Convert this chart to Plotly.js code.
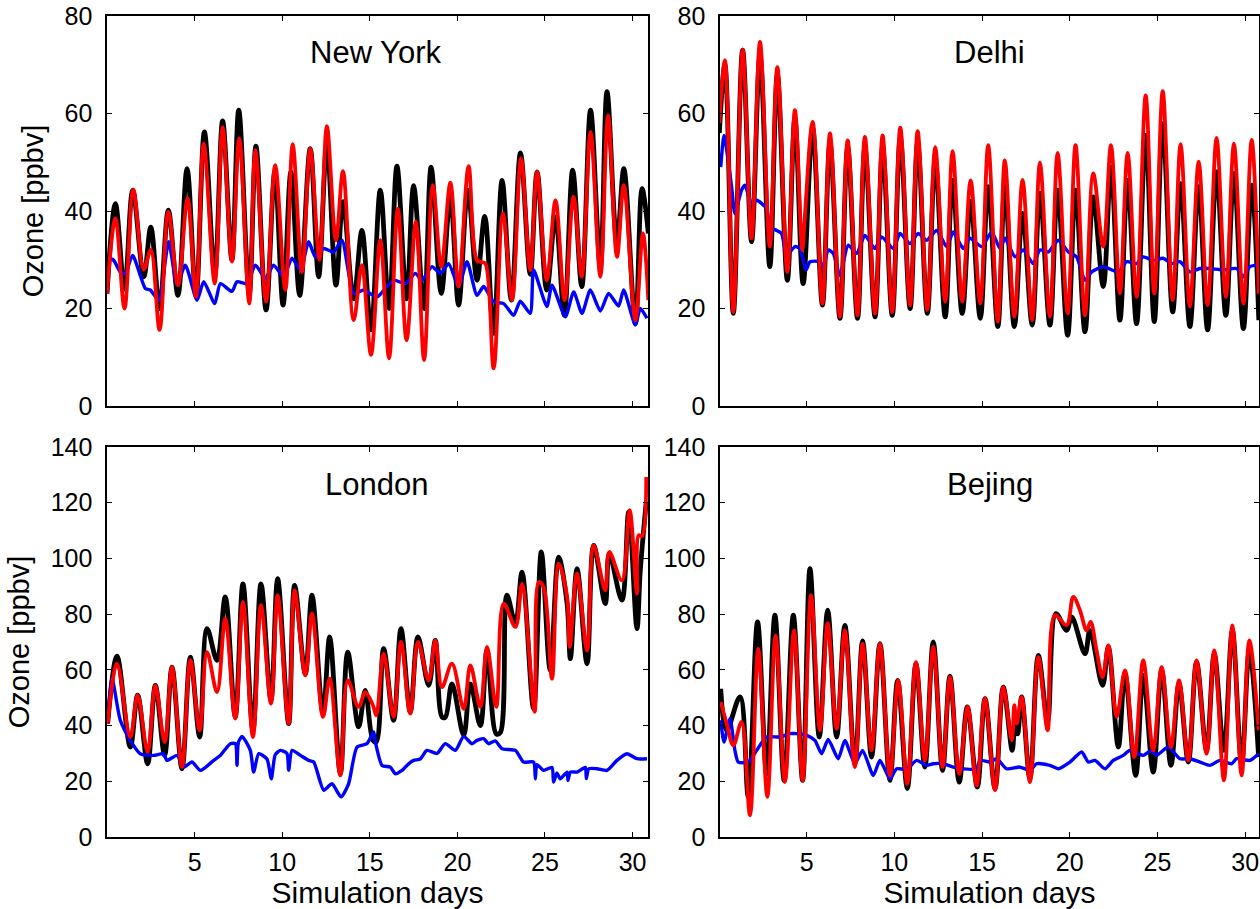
<!DOCTYPE html>
<html>
<head>
<meta charset="utf-8">
<script src="https://cdn.plot.ly/plotly-3.0.1.min.js"></script>
<style>
  html, body { margin: 0; padding: 0; background: #ffffff; }
  #chart { width: 1260px; height: 909px; }
</style>
</head>
<body>
<div id="chart"></div>
<script>
// Ozone time series, [simulation day, ppbv] pairs, one list per city and run.

const newYorkBlack = [[0,23],[0.48,41.5],[1.0,24],[1.47,44.3],[2.1,26.5],[2.5,36.7],[3.0,20],[3.5,40.2],[4.05,22.7],[4.57,48.7],[5.08,22.4],[5.56,56.2],[6.15,27],[6.6,58.5],[7.13,30],[7.52,60.7],[8.12,23],[8.5,53.3],[9.08,19.7],[9.58,48],[10.05,20.7],[10.5,48],[11.0,22.7],[11.6,52.8],[12.08,26.5],[12.55,53.8],[13.07,24.8],[13.47,41.9],[14.08,22],[14.55,36],[15.07,15.6],[15.6,44.3],[16.1,20],[16.55,49.2],[17.1,22],[17.5,45.2],[18.1,20],[18.5,49],[19.08,23.1],[19.6,42.9],[20.07,20.7],[20.6,44.3],[21.12,25.8],[21.56,38.9],[22.07,14.9],[22.55,46.3],[23.08,21.7],[23.6,51.9],[24.16,27],[24.55,48],[25.1,23.8],[25.6,38.8],[26.1,18.6],[26.58,48.4],[27.1,24.5],[27.6,60.7],[28.16,28.5],[28.54,64.5],[29.11,33.3],[29.5,48.7],[30.16,16.9],[30.54,44.6],[30.9,35.4]];
const newYorkRed = [[0,23],[0.48,38.5],[1.0,20],[1.5,44.4],[2.1,28],[2.5,32],[3.0,15.6],[3.5,39.8],[4.05,24.8],[4.6,42.6],[5.08,22.4],[5.52,53.8],[6.15,25.1],[6.6,57.2],[7.13,29.6],[7.55,54.9],[8.12,21],[8.47,52.5],[9.08,21.4],[9.6,49.4],[10.18,23.8],[10.6,53.7],[11.13,27.5],[11.6,52.8],[12.13,30],[12.55,57.4],[13.07,34],[13.47,48.2],[14.08,17.6],[14.55,28.9],[15.07,10.5],[15.6,34],[16.1,9.8],[16.6,40.5],[17.1,13.5],[17.63,37.8],[18.1,9.4],[18.6,45.3],[19.08,28.6],[19.6,45.8],[20.07,24.5],[20.64,49.2],[21.12,29.9],[21.4,29.5],[21.6,29.2],[22.07,7.7],[22.6,39.5],[23.12,21.7],[23.63,50.8],[24.16,27.9],[24.55,48],[25.1,25.8],[25.6,42.2],[26.12,21.7],[26.63,42.9],[27.1,26.5],[27.6,56.2],[28.16,26.5],[28.6,59.6],[29.11,30.6],[29.5,45.3],[30.16,17.6],[30.59,35.4],[30.9,21.7]];
const newYorkBlue = [[0.04,30.6],[0.38,29.9],[0.76,27.5],[1.05,27.2],[1.46,30.9],[2.19,24.1],[2.47,23.8],[2.95,21.7],[3.52,33.7],[4.0,24.8],[4.47,28.9],[5.14,21.7],[5.52,25.5],[6.15,21],[6.47,25.1],[7.13,23.5],[7.42,25.5],[7.99,25.1],[8.47,28.9],[9.04,26.2],[9.51,28.9],[10.08,26.5],[10.56,30.3],[11.04,27.9],[11.51,33.7],[11.89,30.6],[12.37,32.3],[12.94,31.6],[13.41,34],[14.08,23.1],[14.65,23.8],[15.41,22.4],[16.36,25.8],[17.03,25.1],[17.6,27.2],[17.98,25.8],[18.55,28.6],[19.03,27.2],[19.5,29.2],[20.07,24.5],[20.55,29.6],[21.12,22.7],[21.5,24.5],[22.07,21.4],[22.64,21],[23.21,18.6],[23.59,21.5],[24.16,19],[24.35,27.9],[25.11,20.4],[25.4,24.8],[26.16,18.3],[26.64,23.4],[27.11,19],[27.59,23.8],[28.16,19.5],[28.63,23.1],[29.2,20.5],[29.49,23.8],[30.16,16.6],[30.44,20],[30.82,18]];

const delhiBlack = [[0.02,56],[0.34,70],[0.82,19],[1.35,73],[1.86,33.7],[2.34,72],[2.9,28.6],[3.33,68],[3.9,25.8],[4.33,59],[4.8,25.1],[5.34,57],[5.9,20.7],[6.33,54],[6.9,18],[7.34,53],[7.9,18],[8.32,53],[8.9,18.3],[9.33,53],[9.88,18.6],[10.34,55],[10.9,20],[11.33,54],[11.88,19],[12.33,50.4],[12.9,18.3],[13.32,46.3],[13.87,19],[14.35,42],[14.9,18],[15.35,45],[15.9,16.3],[16.3,45],[16.84,16.3],[17.31,39.5],[17.86,16.6],[18.3,43.6],[18.87,16.6],[19.31,44.3],[19.88,14.5],[20.33,44.3],[20.87,15.2],[21.34,42.9],[21.91,24.5],[22.35,49],[22.86,17.6],[23.3,46.3],[23.81,16.9],[24.33,55.5],[24.82,17.3],[25.3,57.9],[25.87,19.3],[26.32,45.6],[26.85,16.3],[27.35,45],[27.86,15.6],[28.37,48],[28.9,18.6],[29.36,47.7],[29.9,15.9],[30.37,45.3],[30.78,17.6]];
const delhiRed = [[0.02,58],[0.34,70.9],[0.82,19.3],[1.35,73.1],[1.86,34.4],[2.34,74.7],[2.9,32.7],[3.33,69.5],[3.9,27.5],[4.33,60.7],[4.75,32],[4.88,38],[5.34,58.3],[5.9,21],[6.33,55.9],[6.9,18.3],[7.34,54.5],[7.9,18.6],[8.32,55.2],[8.9,19],[9.33,55.5],[9.88,19.3],[10.34,57.1],[10.9,20.7],[11.33,56.4],[11.88,19.7],[12.33,53.1],[12.9,21.4],[13.32,52.3],[13.87,21.4],[14.35,46.3],[14.9,21],[15.35,53.5],[15.9,17.3],[16.3,50.4],[16.84,18.3],[17.31,46.4],[17.86,17.6],[18.3,49.9],[18.87,18.3],[19.31,51.9],[19.88,19],[20.33,53.5],[20.87,18.6],[21.34,47.7],[21.91,32.7],[22.35,53.5],[22.86,23.1],[23.3,51.9],[23.81,22.4],[24.33,63.7],[24.82,23.1],[25.3,64.6],[25.87,21.7],[26.32,53.7],[26.85,20.4],[27.35,50.1],[27.86,20.7],[28.37,55],[28.9,22.4],[29.36,53.8],[29.9,21],[30.37,54.6],[30.78,23]];
const delhiBlue = [[0.1,49],[0.29,55.5],[0.72,45],[0.91,39.5],[1.29,44.3],[1.48,45.3],[1.86,41.5],[2.15,42.2],[2.72,40.5],[2.91,36.7],[3.29,36],[3.57,35.4],[3.86,30.9],[4.33,32.7],[4.62,32.3],[4.96,27.9],[5.19,29.6],[5.76,29.6],[5.95,28.6],[6.23,32],[6.52,31.3],[6.9,26.8],[7.37,33],[7.85,31.3],[8.32,35],[8.89,32.3],[9.27,34.7],[9.94,32.3],[10.32,35.4],[10.89,33.3],[11.36,35.4],[11.84,34],[12.41,36],[12.98,32.7],[13.36,35.7],[13.93,32.3],[14.31,34.4],[14.98,32.7],[15.55,35.7],[16.02,32.3],[16.31,34.4],[16.88,30.6],[17.35,32],[17.92,29.2],[18.3,32],[18.78,31.6],[19.35,34],[19.92,31.6],[20.39,30.6],[20.87,25.8],[21.25,27.5],[21.91,28.6],[22.77,27.5],[23.24,29.6],[23.81,29.2],[24.19,30.6],[24.76,29.9],[25.33,30.3],[25.81,29.2],[26.28,29.6],[26.85,27.5],[27.42,28.2],[27.99,28.2],[28.75,27.9],[29.51,28.2],[29.89,26.5],[30.27,28.6],[30.77,28.9]];

const londonBlack = [[0.04,40.7],[0.57,64.9],[1.33,32.3],[1.75,50.9],[2.32,26.3],[2.76,54.4],[3.29,29.3],[3.71,61],[4.28,24.5],[4.76,64.6],[5.29,35.9],[5.71,74.8],[6.28,63.4],[6.75,86.2],[7.32,43.1],[7.76,90.9],[8.33,38.3],[8.79,90.9],[9.36,49.1],[9.74,92.7],[10.37,40.7],[10.71,90.3],[11.32,58.6],[11.7,86.8],[12.33,44.3],[12.71,71.8],[13.32,22.7],[13.74,66.4],[14.36,39.5],[14.74,52.6],[15.18,34.7],[15.37,34.1],[15.79,67.6],[16.36,41.9],[16.78,74.8],[17.31,44.9],[17.75,71.8],[18.36,54.4],[18.74,70.6],[19.12,43.1],[19.31,43],[19.69,55],[20.36,36.5],[20.74,55],[21.31,40],[21.69,67],[22.22,37],[22.45,37.5],[22.83,86.8],[23.31,76.6],[23.69,95.1],[24.35,46],[24.79,102.3],[25.3,59.8],[25.78,100.5],[26.26,83.8],[26.45,64],[26.83,96.3],[27.4,62.2],[27.78,104.7],[28.44,83.8],[28.67,101.7],[29.39,85],[29.78,116.7],[30.25,74.8],[30.44,95.7],[30.78,120.3]];
const londonRed = [[0.04,40.7],[0.57,62.2],[1.33,35.9],[1.75,50.9],[2.32,30.5],[2.76,54.4],[3.29,34.1],[3.71,61],[4.28,25.1],[4.76,63.5],[5.29,38.3],[5.71,66.4],[6.28,52],[6.75,78.4],[7.32,42.5],[7.76,84.4],[8.33,35.9],[8.79,83.2],[9.36,47.9],[9.74,86.8],[10.37,40.7],[10.71,88.5],[11.32,58],[11.7,80.2],[12.33,43.1],[12.71,56.8],[13.32,22.1],[13.74,56.2],[14.36,46.7],[14.74,52],[15.18,47.3],[15.37,43.7],[15.79,65.8],[16.36,43.1],[16.78,70],[17.31,44.3],[17.75,70],[18.36,56.2],[18.74,70.6],[19.12,53.8],[19.69,62.2],[20.36,46],[20.74,61.6],[21.31,46.7],[21.69,68.2],[22.22,46.7],[22.64,83.8],[23.31,75.4],[23.69,90.9],[24.41,44.9],[24.64,91.5],[24.92,89.7],[25.4,56.8],[25.78,98.1],[26.26,86.2],[26.41,68.2],[26.83,94.5],[27.4,67],[27.78,104.7],[28.44,88.5],[28.67,102.3],[29.39,92.1],[29.83,117.3],[30.25,87.4],[30.35,108.3],[30.54,108],[30.78,129.2]];
const londonBlue = [[0.04,40.7],[0.29,56.8],[0.76,41.9],[1.33,34.7],[1.9,29.9],[2.66,29.3],[3.23,29.9],[3.42,27.5],[4.0,29.3],[4.38,25.1],[4.85,26.9],[5.33,23.9],[6.09,27.5],[6.47,29.3],[7.04,33.5],[7.33,33.5],[7.42,25.7],[7.5,34],[7.71,36.1],[8.18,31.1],[8.37,23.3],[8.66,29.9],[9.13,28],[9.38,20.9],[9.6,29.5],[9.89,31.1],[10.27,30],[10.37,23.9],[10.56,31.1],[11.04,29.3],[11.51,27.5],[11.8,26.9],[12.37,16.8],[12.84,19.1],[13.36,14.4],[13.79,19.1],[14.27,32.3],[14.84,33.5],[15.22,37.7],[15.32,34.1],[15.7,25.7],[16.17,25.1],[16.46,22.7],[16.84,23.9],[17.12,25.7],[17.5,27.5],[17.88,28],[18.26,31.1],[18.84,30],[19.31,33.5],[19.88,31.1],[20.36,36.1],[20.83,33.5],[21.12,34.7],[21.5,35.3],[21.78,33.5],[22.16,34.5],[22.55,31.7],[23.31,31.1],[23.78,26.9],[24.35,26.9],[24.45,20.9],[24.54,26],[24.92,23.9],[25.4,25],[25.49,19.7],[25.68,23],[25.87,20.9],[26.26,23.3],[26.31,20.3],[26.45,23.3],[26.83,23.3],[27.3,25],[27.36,21],[27.5,24.5],[27.97,24.5],[28.54,23.9],[29.11,27.5],[29.68,29.9],[30.25,28.1],[30.82,28.1]];

const beijingBlack = [[0.1,53.2],[0.44,38.3],[1.2,50.3],[1.67,14.4],[2.2,77.2],[2.72,22.7],[3.19,79.6],[3.72,20.3],[4.24,79.6],[4.77,20.3],[5.19,96.3],[5.72,35.9],[6.2,81.4],[6.71,35.9],[7.18,76],[7.75,26.3],[8.19,70.4],[8.7,28.7],[9.18,69.4],[9.75,20.3],[10.19,56.2],[10.74,17.4],[11.23,62.2],[11.74,25.1],[12.22,70],[12.75,23.9],[13.17,57.7],[13.7,19.7],[14.16,46.7],[14.73,17.9],[15.17,49.7],[15.74,17.4],[16.21,53.8],[16.72,31.1],[16.88,41.9],[17.03,37],[17.26,50.3],[17.73,20.9],[18.21,65.2],[18.74,41.9],[19.21,80.2],[19.82,74.2],[20.11,79],[20.87,65.8],[21.15,74.2],[21.87,54.4],[22.2,68.2],[22.77,32.3],[23.15,58.6],[23.76,22.1],[24.19,58],[24.76,23.3],[25.24,59.8],[25.77,25.7],[26.23,55],[26.76,26.9],[27.23,62.8],[27.8,31.1],[28.24,65.8],[28.79,31.1],[29.27,74.2],[29.8,26.3],[30.24,67],[30.77,28.7]];
const beijingRed = [[0.1,48.5],[0.44,40.7],[0.82,32.9],[1.29,41.3],[1.77,7.8],[2.24,67.6],[2.76,14.4],[3.23,72.4],[3.76,19.7],[4.28,74.2],[4.77,20.3],[5.25,86.8],[5.76,38.3],[6.2,76.8],[6.71,38.9],[7.18,74.2],[7.75,25.1],[8.19,69.4],[8.7,31.1],[9.18,69.4],[9.75,22.1],[10.22,56.2],[10.74,19.1],[11.23,62.8],[11.74,27.5],[12.22,68.2],[12.75,25.1],[13.17,57.4],[13.7,22.7],[14.18,46.7],[14.69,18.5],[15.17,49.7],[15.74,16.8],[16.21,53.8],[16.69,34.7],[16.84,47.3],[16.97,40.7],[17.26,50.3],[17.73,19.7],[18.21,64.6],[18.74,38.3],[19.16,79.6],[19.82,76],[20.2,86.2],[20.58,81.4],[20.96,74.2],[21.19,77.2],[21.53,67],[21.87,57.4],[22.2,68.8],[22.67,43.1],[23.15,59.8],[23.68,28.7],[24.19,63.4],[24.76,31.1],[25.24,61],[25.77,32.3],[26.23,56.2],[26.76,27.5],[27.23,63.4],[27.8,29.9],[28.24,67],[28.79,20.3],[29.27,76],[29.8,22.1],[30.24,70.6],[30.77,38.3]];
const beijingBlue = [[0.1,41.9],[0.29,34.1],[0.63,42.5],[0.91,31.1],[1.1,26.9],[1.67,26.9],[2.15,31.1],[2.72,35.9],[3.48,35.9],[4.05,37.1],[4.43,37.1],[5.0,36.5],[5.47,34.7],[5.85,29.9],[6.23,35],[6.8,28.1],[7.18,34.7],[7.75,26.3],[8.19,31.1],[8.8,22.1],[9.18,27.5],[9.75,20.9],[10.13,24.5],[10.7,24.3],[11.27,27.5],[11.84,25.7],[12.22,26.3],[12.79,26.3],[13.36,25.1],[13.93,24.5],[14.69,24.5],[14.88,27.5],[15.45,26.9],[15.83,28.1],[16.4,24.5],[17.16,25.1],[17.73,23.9],[18.11,26.3],[18.87,25.7],[19.35,24.5],[20.01,26.9],[20.68,30.5],[21.06,26.9],[21.44,27.5],[22.01,24.5],[22.48,27.5],[23.05,29.3],[23.43,31.1],[24.19,29.3],[24.67,31.1],[24.95,29.3],[25.62,32.3],[26.28,28.1],[26.85,28.1],[27.42,26.9],[27.99,25.7],[28.56,27.5],[29.23,26.3],[29.51,28.1],[30.27,27.5],[30.77,29.9]];

const cityNames = ['New York', 'Delhi', 'London', 'Bejing'];
const dayTicks = [5, 10, 15, 20, 25, 30];
const topOzoneTicks = [0, 20, 40, 60, 80];
const bottomOzoneTicks = [0, 20, 40, 60, 80, 100, 120, 140];

const runs = [
  [newYorkBlack, newYorkBlue, newYorkRed],
  [delhiBlack, delhiBlue, delhiRed],
  [londonBlack, londonBlue, londonRed],
  [beijingBlack, beijingBlue, beijingRed]
];

const lineStyles = [
  { color: '#000000', width: 4.8, smoothing: 1 },
  { color: '#0000ff', width: 3.4, smoothing: 0.6 },
  { color: '#ff0000', width: 3.8, smoothing: 1 }
];

const traces = [];
runs.forEach((set, p) => {
  const ax = p === 0 ? '' : String(p + 1);
  set.forEach((series, k) => {
    const st = lineStyles[k];
    traces.push({
      type: 'scatter',
      mode: 'lines',
      x: series.map(d => d[0]),
      y: series.map(d => d[1]),
      xaxis: 'x' + ax,
      yaxis: 'y' + ax,
      line: { color: st.color, width: st.width, shape: 'spline', smoothing: st.smoothing },
      hoverinfo: 'skip',
      showlegend: false
    });
  });
});

const W = 1260, H = 909;
const fontFamily = '"Liberation Sans", Arial, Helvetica, sans-serif';
const tickFont = { family: fontFamily, size: 25, color: '#000000' };

// plot frames in pixels: [left, right, top, bottom]
const frames = [
  [107, 648, 16, 406],
  [720, 1259, 16, 406],
  [107, 648, 447, 837],
  [720, 1259, 447, 837]
];
const xRanges = [[0, 30.88], [0.06, 30.79], [0, 30.88], [0.06, 30.79]];
const titleShift = [-2, 0, -1, 0];

const layout = {
  width: W, height: H,
  margin: { l: 0, r: 0, t: 0, b: 0 },
  paper_bgcolor: '#ffffff',
  plot_bgcolor: '#ffffff',
  showlegend: false,
  font: { family: fontFamily, color: '#000000' },
  annotations: []
};

frames.forEach((f, p) => {
  const ax = p === 0 ? '' : String(p + 1);
  const bottomRow = p >= 2;
  const leftCol = p % 2 === 0;
  const common = {
    showline: true, linecolor: '#000000', linewidth: 1.6, mirror: 'ticks',
    ticks: 'inside', ticklen: 5, tickwidth: 1, tickcolor: '#000000',
    showgrid: false, zeroline: false, tickfont: tickFont, fixedrange: true
  };
  layout['xaxis' + ax] = Object.assign({}, common, {
    domain: [f[0] / W, f[1] / W],
    anchor: 'y' + ax,
    range: xRanges[p],
    tickmode: 'array', tickvals: dayTicks, ticktext: dayTicks.map(String),
    showticklabels: bottomRow,
    ticklabelstandoff: 2,
    title: bottomRow ? { text: 'Simulation days', font: { family: fontFamily, size: 30, color: '#000000' }, standoff: 12 } : { text: '' }
  });
  const yt = bottomRow ? bottomOzoneTicks : topOzoneTicks;
  layout['yaxis' + ax] = Object.assign({}, common, {
    domain: [(H - f[3]) / H, (H - f[2]) / H],
    anchor: 'x' + ax,
    range: [0, bottomRow ? 140 : 80],
    tickmode: 'array', tickvals: yt, ticktext: yt.map(String),
    ticklabelstandoff: 8,
    title: leftCol ? { text: 'Ozone [ppbv]', font: { family: fontFamily, size: 29, color: '#000000' }, standoff: 12 } : { text: '' }
  });
  layout.annotations.push({
    xref: 'paper', yref: 'paper',
    x: ((f[0] + f[1]) / 2 + titleShift[p]) / W,
    y: (H - (f[2] + 37)) / H,
    text: cityNames[p],
    showarrow: false,
    xanchor: 'center', yanchor: 'middle',
    font: { family: fontFamily, size: 31, color: '#000000' }
  });
});

Plotly.newPlot('chart', traces, layout, { staticPlot: true, displayModeBar: false });
</script>
</body>
</html>
